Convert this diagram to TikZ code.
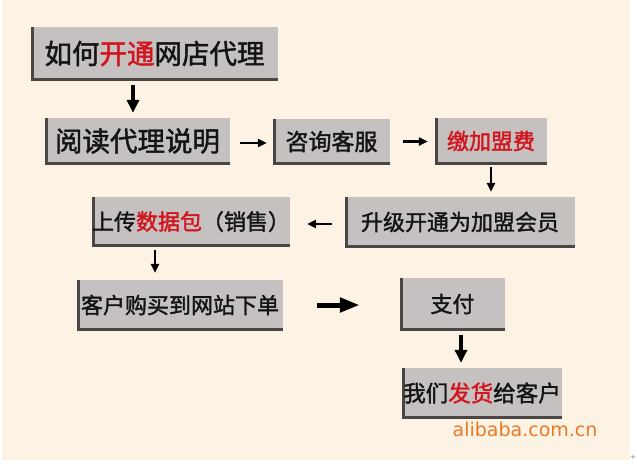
\documentclass[tikz,border=0pt]{standalone}
\usepackage{fontspec}
\newfontfamily\cjk[FakeBold=1.6]{Noto Sans CJK SC}
\newfontfamily\dejavu{DejaVu Sans}
\usetikzlibrary{arrows.meta}
\definecolor{cream}{HTML}{FDF3E5}
\definecolor{boxgray}{HTML}{C5C1C1}
\definecolor{edgegray}{HTML}{4A4646}
\definecolor{myred}{HTML}{D3141C}
\definecolor{ali}{HTML}{EC7A23}
\newcommand{\rd}[1]{\textcolor{myred}{#1}}
\begin{document}
\begin{tikzpicture}[x=1pt,y=-1pt,
  box/.style={rectangle, fill=boxgray, inner sep=0pt, text=black!92,
    path picture={\draw[edgegray, line width=5pt]
      (path picture bounding box.north west) -- (path picture bounding box.south west)
      -- (path picture bounding box.south east);}},
  fs/.style={font=\cjk\fontsize{#1}{#1}\selectfont},
  arrS/.style={line width=2.3pt, -{Triangle[length=9pt,width=8pt]}},
  arrM/.style={line width=3.5pt, -{Triangle[length=13pt,width=12pt]}},
  arrL/.style={line width=5pt, -{Triangle[length=20pt,width=14pt]}}
]
\useasboundingbox (0,0) rectangle (637,467);
\fill[white] (0,0) rectangle (637,467);
\fill[cream] (2,0) rectangle (630,460);

\node[box, fs=27.5, minimum width=247pt, minimum height=53pt] (b1) at (154.5,53.5) {如何\rd{开通}网店代理};
\node[box, fs=27.5, minimum width=185pt, minimum height=46pt] (b2) at (137.5,141) {阅读代理说明};
\node[box, fs=23, minimum width=117pt, minimum height=45pt] (b3) at (331.5,141.5) {咨询客服};
\node[box, fs=22, minimum width=112pt, minimum height=46pt] (b4) at (491,141) {\rd{缴加盟费}};
\node[box, fs=22, minimum width=230pt, minimum height=50pt] (b5) at (460,222) {升级开通为加盟会员};
\node[box, fs=22, minimum width=198pt, minimum height=49pt] (b6) at (191,221.5) {上传\rd{数据包}（销售）};
\node[box, fs=22, minimum width=206pt, minimum height=50pt] (b7) at (180,305) {客户购买到网站下单};
\node[box, fs=22, minimum width=105pt, minimum height=52pt] (b8) at (452.5,304) {支付};
\node[box, fs=22.5, minimum width=160pt, minimum height=50pt] (b9) at (482,393) {我们\rd{发货}给客户};

\node[font=\dejavu\fontsize{19}{19}\selectfont, text=ali, inner sep=0pt] (ali) at (525,429) {alibaba.com.cn};
\node[font=\dejavu\fontsize{7}{7}\selectfont, text=gray, inner sep=0pt] (plus) at (633,457) {+};

\draw[arrM, shorten <=5pt, shorten >=5pt] ([xshift=-21.5pt]b1.south) -- ([xshift=-21.5pt]b1.south |- b2.north);
\draw[arrS, shorten <=10pt, shorten >=6pt] ([yshift=-2pt]b2.east) -- ([yshift=-2pt]b2.east -| b3.west);
\draw[arrS, shorten <=13pt, shorten >=7pt] (b3.east) -- (b3.east -| b4.west);
\draw[arrS, shorten <=3pt, shorten >=5pt] (b4.south) -- (b4.south |- b5.north);
\draw[arrS, shorten <=13pt, shorten >=17pt] ([yshift=-2pt]b5.west) -- ([yshift=-2pt]b5.west -| b6.east);
\draw[arrS, shorten <=4pt, shorten >=7pt] ([xshift=-36pt]b6.south) -- ([xshift=-36pt]b6.south |- b7.north);
\draw[arrL, shorten <=34pt, shorten >=40pt] (b7.east) -- (b7.east -| b8.west);
\draw[arrM, line width=4pt, shorten <=5pt, shorten >=5pt] ([xshift=8.5pt]b8.south) -- ([xshift=8.5pt]b8.south |- b9.north);
\end{tikzpicture}
\end{document}
